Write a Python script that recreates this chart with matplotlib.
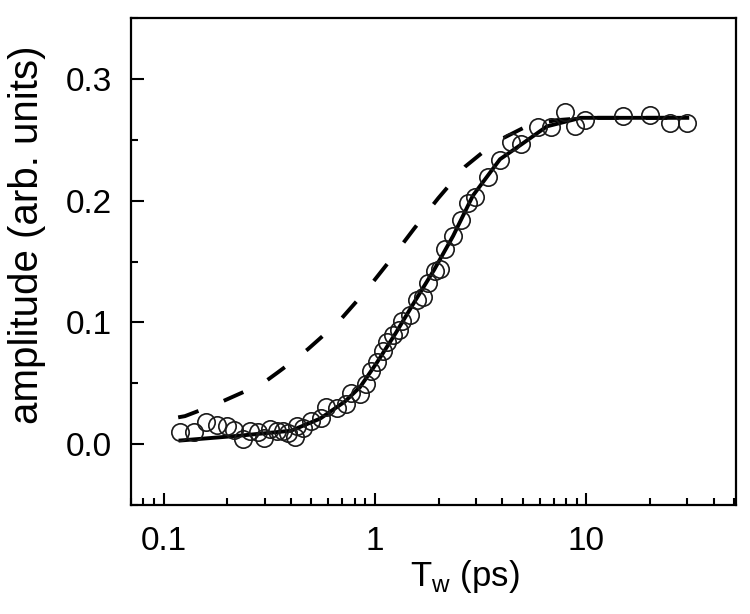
import matplotlib
matplotlib.use("Agg")
import matplotlib.pyplot as plt
from matplotlib.ticker import MultipleLocator, FixedLocator, FixedFormatter

plt.rcParams['font.family'] = ['Liberation Sans', 'DejaVu Sans']

# measured amplitudes (open circles)
tw_data = [0.119, 0.139, 0.158, 0.178, 0.199, 0.215, 0.237, 0.256, 0.279, 0.298,
           0.318, 0.343, 0.366, 0.387, 0.418, 0.427, 0.456, 0.498, 0.555, 0.586,
           0.660, 0.729, 0.770, 0.849, 0.906, 0.957, 1.022, 1.091, 1.140, 1.217,
           1.300, 1.342, 1.465, 1.581, 1.688, 1.783, 1.923, 2.032, 2.146, 2.342,
           2.556, 2.759, 2.978, 3.433, 3.911, 4.412, 4.921, 5.925, 6.826, 7.946,
           8.868, 9.890, 14.97, 19.89, 24.73, 29.78]
amp_data = [0.0099, 0.0099, 0.0181, 0.0156, 0.0148, 0.0115, 0.0041, 0.0107, 0.0099, 0.0049,
            0.0123, 0.0107, 0.0107, 0.0090, 0.0058, 0.0148, 0.0131, 0.0189, 0.0214, 0.0304,
            0.0296, 0.0329, 0.0419, 0.0411, 0.0493, 0.0600, 0.0674, 0.0764, 0.0838, 0.0896,
            0.0937, 0.1011, 0.1060, 0.1183, 0.1208, 0.1323, 0.1422, 0.1438, 0.1602, 0.1709,
            0.1841, 0.1980, 0.2030, 0.2194, 0.2334, 0.2481, 0.2465, 0.2605, 0.2605, 0.2728,
            0.2613, 0.2662, 0.2695, 0.2703, 0.2638, 0.2638]

# fit (solid line)
tw_fit = [0.12, 0.23, 0.40, 0.55, 0.72, 0.85, 1.02, 1.25, 1.55, 1.9, 2.34, 2.9,
          3.9, 5.0, 6.5, 9.4, 15, 30]
amp_fit = [0.003, 0.007, 0.011, 0.021, 0.035, 0.047, 0.067, 0.091, 0.118, 0.143,
           0.171, 0.204, 0.234, 0.247, 0.261, 0.268, 0.268, 0.268]

# model (dashed line)
tw_model = [0.117, 0.126, 0.178, 0.247, 0.30, 0.347, 0.40, 0.481, 0.668, 0.916, 1.178, 1.53,
            1.99, 2.67, 3.70, 5.20, 7.13, 10, 15, 30]
amp_model = [0.022, 0.023, 0.033, 0.044, 0.051, 0.059, 0.067, 0.078, 0.100, 0.127, 0.151, 0.177,
             0.202, 0.228, 0.248, 0.261, 0.266, 0.268, 0.268, 0.268]

fig = plt.figure(figsize=(7.5, 6.14), dpi=100)
ax = fig.add_axes([0.1747, 0.1775, 0.8066, 0.7932])

ax.plot(tw_model, amp_model, color='black', lw=2.8, dashes=(5.5, 7))
ax.plot(tw_fit, amp_fit, color='black', lw=2.8)
ax.plot(tw_data, amp_data, 'o', mfc='none', mec='#1a1a1a', mew=1.2, ms=12.5)

ax.set_xscale('log')
ax.set_xlim(0.07, 51)
ax.set_ylim(-0.05, 0.35)

ax.xaxis.set_major_locator(FixedLocator([0.1, 1, 10]))
ax.xaxis.set_major_formatter(FixedFormatter(['0.1', '1', '10']))
ax.yaxis.set_major_locator(MultipleLocator(0.1))
ax.yaxis.set_minor_locator(MultipleLocator(0.05))
ax.yaxis.set_major_formatter(plt.FuncFormatter(lambda v, p: f"{v:.1f}"))

ax.tick_params(which='both', direction='in', top=False, right=False,
               labelsize=24, width=1.5)
ax.tick_params(which='major', length=9)
ax.tick_params(axis='y', which='major', pad=14)
ax.tick_params(axis='x', which='major', pad=15)
ax.tick_params(which='minor', length=5)
for s in ax.spines.values():
    s.set_linewidth(1.6)

ax.set_xlabel('T$_\\mathregular{w}$ (ps)', fontsize=25)
ax.set_ylabel('amplitude (arb. units)', fontsize=29)
ax.xaxis.set_label_coords(0.552, -0.108)
ax.yaxis.set_label_coords(-0.14, 0.554)

fig.savefig('out.png', dpi=100)
